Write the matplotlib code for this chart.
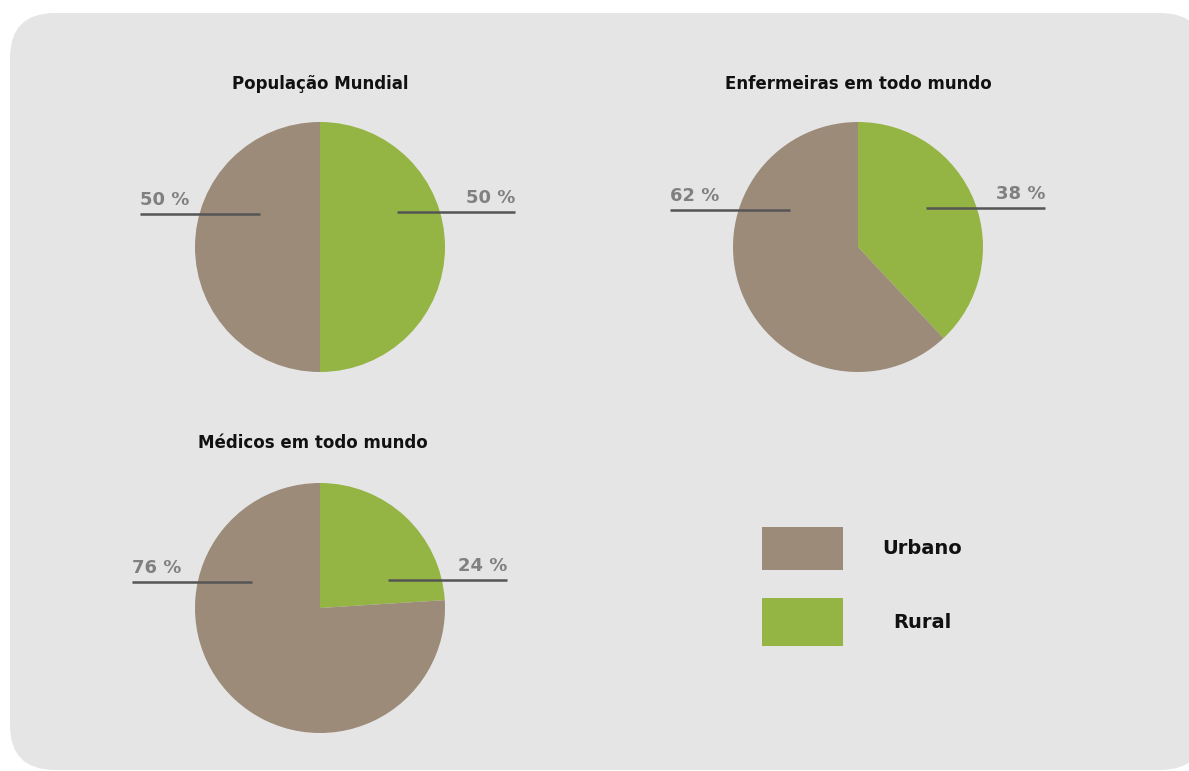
import matplotlib.pyplot as plt
from matplotlib.patches import FancyBboxPatch, Rectangle

# Share of urban vs rural for each group
titles = ['População Mundial', 'Enfermeiras em todo mundo', 'Médicos em todo mundo']
urbano = [50, 62, 76]
rural = [50, 38, 24]
legend_labels = ['Urbano', 'Rural']

URB = '#9c8b79'
RUR = '#94b443'
BG = '#e5e5e5'
TXT_GRAY = '#808080'
LINE = '#555555'

W, H = 1189, 771
plt.rcParams['font.family'] = ['DejaVu Sans']

fig = plt.figure(figsize=(W / 100, H / 100), dpi=100)
ax = fig.add_axes([0, 0, 1, 1])

# rounded panel
ax.add_patch(FancyBboxPatch((10, 1), 1195, H - 13 - 1,
                            boxstyle='round,pad=0,rounding_size=45',
                            fc=BG, ec='none', zorder=0))

# pie centers (pixel coords, y from top), radius
centers = [(320, 247), (858, 247), (320, 608)]
title_pos = [(320, 84), (858, 84), (313, 443)]
radius = 125
# leader lines: (x0, x1, y) per side, offsets from the pie center
left_lines = [(-180, -60, -33), (-188, -68, -37), (-188, -68, -26)]
right_lines = [(77, 195, -35), (68, 187, -39), (68, 187, -28)]

for i, (cx, cy) in enumerate(centers):
    y = H - cy
    ax.pie([rural[i], urbano[i]], colors=[RUR, URB], startangle=90,
           counterclock=False, center=(cx, y), radius=radius,
           wedgeprops=dict(linewidth=0), frame=True)
    tx, ty = title_pos[i]
    ax.text(tx, H - ty, titles[i], ha='center', va='center',
            fontsize=12, fontweight='bold', color='#111111')

    # left label (urban)
    x0, x1, dy = left_lines[i]
    ly = y - dy
    ax.plot([cx + x0, cx + x1], [ly, ly], color=LINE, lw=1.8, zorder=3,
            solid_capstyle='butt')
    ax.text(cx + x0, ly + 5, f'{urbano[i]} %', ha='left', va='bottom',
            fontsize=13, fontweight='bold', color=TXT_GRAY)
    # right label (rural)
    x0, x1, dy = right_lines[i]
    ry = y - dy
    ax.plot([cx + x0, cx + x1], [ry, ry], color=LINE, lw=1.8, zorder=3,
            solid_capstyle='butt')
    ax.text(cx + x1, ry + 5, f'{rural[i]} %', ha='right', va='bottom',
            fontsize=13, fontweight='bold', color=TXT_GRAY)

# legend
for (ytop, ybot), lab, col in zip([(527, 570), (598, 646)], legend_labels, [URB, RUR]):
    ax.add_patch(Rectangle((762, H - ybot), 81, ybot - ytop, fc=col, ec='none'))
    ax.text(922, H - (ytop + ybot) / 2, lab, ha='center', va='center',
            fontsize=14, fontweight='bold', color='#111111')

ax.set_xlim(0, W)
ax.set_ylim(0, H)
ax.set_aspect('equal')
ax.axis('off')

fig.savefig('out.png', dpi=100, facecolor='white')
